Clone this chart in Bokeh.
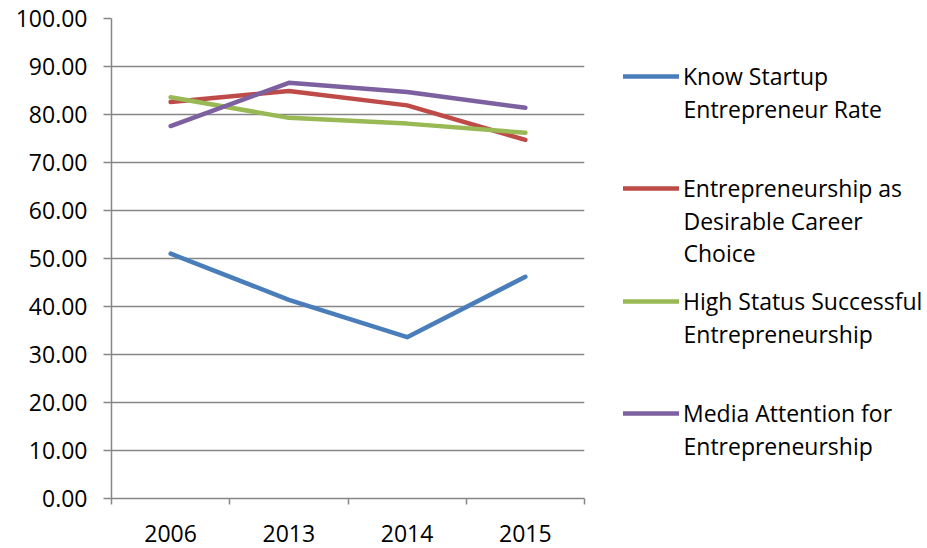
from bokeh.plotting import figure
from bokeh.models import FixedTicker, NumeralTickFormatter, Legend, LegendItem, Range1d, Label
from bokeh.layouts import row
from bokeh.embed import file_html
from bokeh.resources import INLINE

years = ["2006", "2013", "2014", "2015"]
know_startup = [51.0, 41.4, 33.6, 46.2]
desirable_career = [82.6, 84.9, 81.9, 74.7]
high_status = [83.6, 79.3, 78.1, 76.2]
media_attention = [77.6, 86.6, 84.7, 81.4]

series_names = [
    ["Know Startup", "Entrepreneur Rate"],
    ["Entrepreneurship as", "Desirable Career", "Choice"],
    ["High Status Successful", "Entrepreneurship"],
    ["Media Attention for", "Entrepreneurship"],
]
series_values = [know_startup, desirable_career, high_status, media_attention]
colors = ["#4A7EBB", "#BE4B48", "#98B954", "#7D60A0"]

FONT = "Open Sans"
FS = "23px"
LFS = "23px"
TEXT = "#000000"
GRID = "#868686"
H = 548
TOP = 18
BOTTOM = 50

p = figure(width=600, height=H, output_backend="svg", toolbar_location=None,
           x_range=Range1d(0, len(years)), y_range=Range1d(0, 100),
           min_border_left=111, min_border_right=16, min_border_top=TOP,
           min_border_bottom=BOTTOM)
p.outline_line_color = None

xs = [i + 0.5 for i in range(len(years))]
for vals, col in zip(series_values, colors):
    p.line(xs, vals, line_color=col, line_width=4.5, line_cap="round", line_join="round")

# x axis
xa = p.xaxis[0]
xa.ticker = FixedTicker(ticks=xs, minor_ticks=list(range(len(years) + 1)))
xa.major_label_overrides = {x: y for x, y in zip(xs, years)}
xa.major_tick_out = 0
xa.major_tick_in = 0
xa.minor_tick_out = 6
xa.minor_tick_in = 0
xa.minor_tick_line_color = GRID
xa.minor_tick_line_width = 1.5
xa.axis_line_color = GRID
xa.axis_line_width = 1.5
xa.major_label_standoff = 20
xa.major_label_text_font = FONT
xa.major_label_text_font_size = FS
xa.major_label_text_color = TEXT

# y axis
ya = p.yaxis[0]
ya.ticker = FixedTicker(ticks=list(range(0, 101, 10)))
ya.formatter = NumeralTickFormatter(format="0.00")
ya.major_tick_out = 8
ya.major_tick_in = 0
ya.minor_tick_line_color = None
ya.major_tick_line_color = GRID
ya.major_tick_line_width = 1.5
ya.axis_line_color = GRID
ya.axis_line_width = 1.5
ya.major_label_standoff = 16
ya.major_label_text_font = FONT
ya.major_label_text_font_size = FS
ya.major_label_text_color = TEXT

p.xgrid.grid_line_color = None
p.ygrid.grid_line_color = GRID
p.ygrid.grid_line_width = 1.5

# legend panel: a second figure holding legend samples (lines lie outside its view)
q = figure(width=327, height=H, output_backend="svg", toolbar_location=None,
           x_range=Range1d(100, 101), y_range=Range1d(0, 100),
           min_border_left=0, min_border_right=0, min_border_top=TOP,
           min_border_bottom=BOTTOM)
q.axis.visible = False
q.grid.visible = False
q.outline_line_color = None

FRAME_BOTTOM = H - BOTTOM
GLYPH_X = 23
GLYPH_W = 56
STANDOFF = 4
ROW_H = 32
entry_top_rows = [76, 188, 301, 413]  # page y of each entry's first text row
for lines, vals, col, top in zip(series_names, series_values, colors, entry_top_rows):
    r = q.line(xs, vals, line_color=col, line_width=4.5, line_cap="round")
    lg = Legend(items=[LegendItem(label=lines[0], renderers=[r])],
                location=(GLYPH_X, FRAME_BOTTOM - top - ROW_H // 2), orientation="vertical",
                background_fill_alpha=0, border_line_alpha=0,
                glyph_width=GLYPH_W, glyph_height=ROW_H, label_standoff=STANDOFF,
                label_text_font=FONT, label_text_font_size=LFS,
                label_text_color=TEXT,
                padding=0, margin=0, spacing=0, label_height=ROW_H)
    q.add_layout(lg, "center")
    for k, txt in enumerate(lines[1:], start=1):
        q.add_layout(Label(x=GLYPH_X + GLYPH_W + STANDOFF, y=FRAME_BOTTOM - top - k * ROW_H,
                           x_units="screen", y_units="screen", text=txt,
                           text_font=FONT, text_font_size=LFS, text_color=TEXT,
                           text_baseline="middle", text_align="left"))

layout = row(p, q)
open("out.html", "w").write(file_html(layout, INLINE))
